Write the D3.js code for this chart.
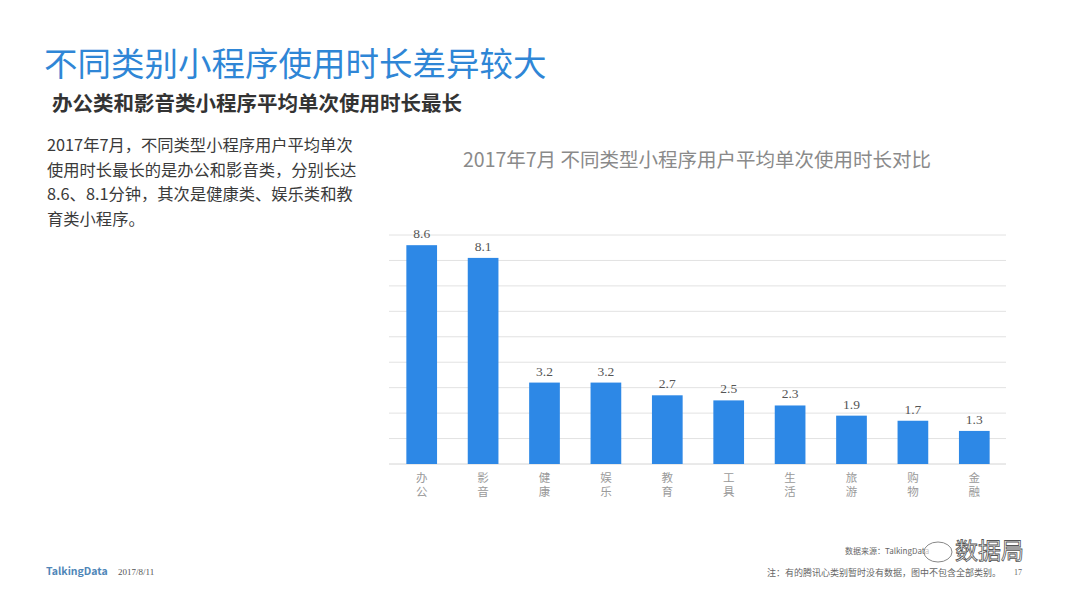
<!DOCTYPE html>
<html>
<head>
<meta charset="utf-8">
<script src="https://cdn.jsdelivr.net/npm/d3@7"></script>
<style>
  html, body { margin: 0; padding: 0; background: #fff; }
  svg { display: block; }
</style>
</head>
<body>
<svg id="chart" width="1066" height="599"></svg>
<script>
// data
const categories = ['办公', '影音', '健康', '娱乐', '教育', '工具', '生活', '旅游', '购物', '金融'];
const values = [8.6, 8.1, 3.2, 3.2, 2.7, 2.5, 2.3, 1.9, 1.7, 1.3];
const gridTicks = [0, 1, 2, 3, 4, 5, 6, 7, 8, 9];

const paragraph = [
  '2017年7月，不同类型小程序用户平均单次',
  '使用时长最长的是办公和影音类，分别长达',
  '8.6、8.1分钟，其次是健康类、娱乐类和教',
  '育类小程序。'
];

const sans = '"Noto Sans CJK SC", "Noto Sans", sans-serif';
const svg = d3.select('#chart');

// headings
svg.append('text')
  .attr('x', 44).attr('y', 76)
  .style('font-family', sans).style('font-size', '33.5px')
  .attr('fill', '#2f86d6')
  .text('不同类别小程序使用时长差异较大');

svg.append('text')
  .attr('x', 52).attr('y', 111)
  .style('font-family', sans).style('font-size', '20.5px').style('font-weight', 'bold')
  .attr('fill', '#333')
  .text('办公类和影音类小程序平均单次使用时长最长');

svg.append('g').selectAll('text')
  .data(paragraph)
  .enter()
  .append('text')
  .attr('x', 47)
  .attr('y', (d, i) => 151 + i * 24.5)
  .style('font-family', sans).style('font-size', '16.3px')
  .attr('fill', '#3a3a3a')
  .text(d => d);

// chart
const x = d3.scaleBand()
  .domain(categories)
  .range([391, 1005])
  .paddingInner(0.5)
  .paddingOuter(0.25);

const y = d3.scaleLinear()
  .domain([0, 9])
  .range([464, 235]);

svg.append('text')
  .attr('x', 697).attr('y', 167)
  .attr('text-anchor', 'middle')
  .style('font-family', sans).style('font-size', '19.5px')
  .attr('fill', '#8a8a8a')
  .text('2017年7月 不同类型小程序用户平均单次使用时长对比');

svg.append('g')
  .selectAll('line')
  .data(gridTicks)
  .enter()
  .append('line')
  .attr('x1', 389).attr('x2', 1006)
  .attr('y1', d => y(d)).attr('y2', d => y(d))
  .attr('stroke', d => d === 0 ? '#d4d4d4' : '#e2e2e2')
  .attr('stroke-width', 1);

svg.append('g')
  .selectAll('rect')
  .data(values)
  .enter()
  .append('rect')
  .attr('x', (d, i) => x(categories[i]))
  .attr('y', d => y(d))
  .attr('width', x.bandwidth())
  .attr('height', d => y(0) - y(d))
  .attr('fill', '#2d88e6');

svg.append('g')
  .selectAll('text')
  .data(values)
  .enter()
  .append('text')
  .attr('x', (d, i) => x(categories[i]) + x.bandwidth() / 2)
  .attr('y', d => y(d) - 7)
  .attr('text-anchor', 'middle')
  .style('font-family', '"Liberation Serif", serif').style('font-size', '13.5px')
  .attr('fill', '#555')
  .text(d => d.toFixed(1));

// category labels, written top to bottom
const catLabels = svg.append('g')
  .selectAll('text')
  .data(categories)
  .enter()
  .append('text')
  .attr('text-anchor', 'middle')
  .style('font-family', sans).style('font-size', '11.5px')
  .attr('fill', '#9a9a9a');

catLabels.selectAll('tspan')
  .data(d => d.split(''))
  .enter()
  .append('tspan')
  .attr('x', function() { const c = d3.select(this.parentNode).datum(); return x(c) + x.bandwidth() / 2; })
  .attr('y', (d, i) => 482 + i * 14)
  .text(d => d);

// footer
svg.append('text')
  .attr('x', 46).attr('y', 575)
  .style('font-family', sans).style('font-size', '10.5px').style('font-weight', 'bold')
  .attr('fill', '#4f86b8')
  .text('TalkingData');

svg.append('text')
  .attr('x', 118).attr('y', 575)
  .style('font-family', '"Liberation Serif", serif').style('font-size', '9px')
  .attr('fill', '#555')
  .text('2017/8/11');

svg.append('text')
  .attr('x', 845).attr('y', 554)
  .style('font-family', sans).style('font-size', '8px')
  .attr('fill', '#666')
  .text('数据来源：TalkingData');

svg.append('text')
  .attr('x', 767).attr('y', 576)
  .style('font-family', sans).style('font-size', '9px')
  .attr('fill', '#666')
  .text('注：有的腾讯心类别暂时没有数据，图中不包含全部类别。');

svg.append('text')
  .attr('x', 1014).attr('y', 575)
  .style('font-family', '"Liberation Serif", serif').style('font-size', '8px')
  .attr('fill', '#666')
  .text('17');

// watermark
svg.append('ellipse')
  .attr('cx', 938).attr('cy', 552).attr('rx', 14).attr('ry', 10)
  .attr('fill', '#fff').attr('fill-opacity', 0.6).attr('stroke', '#888').attr('stroke-width', 1);

svg.append('text')
  .attr('x', 955).attr('y', 559)
  .style('font-family', sans).style('font-size', '23px')
  .attr('fill', '#fff').attr('stroke', '#555').attr('stroke-width', 0.8)
  .text('数据局');
</script>
</body>
</html>
